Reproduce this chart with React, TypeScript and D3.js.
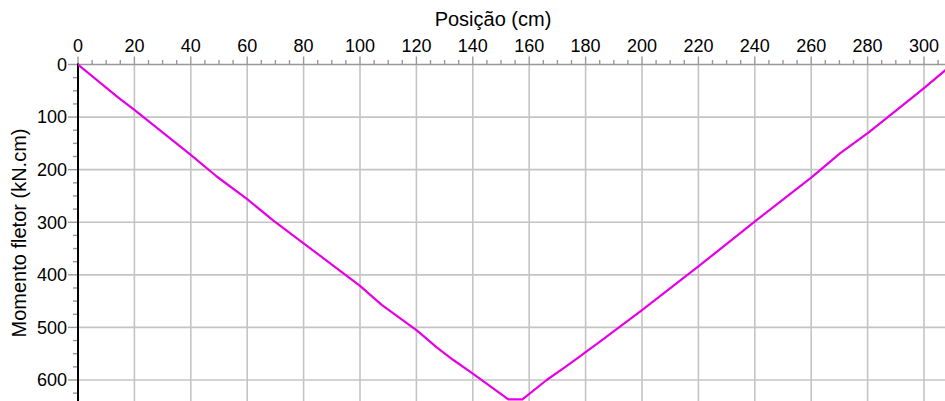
import React from "react";
import * as d3 from "d3";

const positions = [0, 14.3, 20, 40, 49.2, 60, 69.3, 80, 100, 107.7, 120, 121.3, 127.2, 133.1, 140, 152.6, 157.6, 166.2, 172.1, 178, 180, 185.1, 200, 220, 240.4, 260, 270.2, 280.4, 295.6, 300, 310];
const moments = [0, 63, 86.5, 172, 213, 256, 297, 340, 421, 457, 505, 511, 538, 562, 588, 637, 637, 600, 578, 555, 547, 527, 467, 384, 297, 215, 169, 129, 64, 45, 0];
const xTicks = d3.range(0, 301, 20);
const xMinor = d3.range(0, 308, 5);
const yTicks = [0, 100, 200, 300, 400, 500, 600];
const yMinor = d3.range(0, 641, 25);

const W = 945;
const H = 401;
const left = 78;
const top = 64.5;

export default function App() {
  const x = d3.scaleLinear().domain([0, 300]).range([left, 924]);
  const y = d3.scaleLinear().domain([0, 600]).range([top, 380]);
  const pts = positions.map((p, i) => [p, moments[i]] as [number, number]);
  const line = d3.line<[number, number]>().x((d) => x(d[0])).y((d) => y(d[1]));
  const font = "Arial, 'Liberation Sans', sans-serif";
  return (
    <svg width={W} height={H} style={{ position: "absolute", left: 0, top: 0, background: "#fff" }}>
      <defs>
        <clipPath id="plot">
          <rect x={left} y={top - 1} width={W - left} height={H - top + 1} />
        </clipPath>
      </defs>
      <g stroke="#c4c4c4" strokeWidth={1.6}>
        {xTicks.filter((t) => t > 0).map((t) => (
          <line key={"gx" + t} x1={x(t)} x2={x(t)} y1={top} y2={H} />
        ))}
        {yTicks.filter((t) => t > 0).map((t) => (
          <line key={"gy" + t} x1={left} x2={W} y1={y(t)} y2={y(t)} />
        ))}
      </g>
      {/* top axis */}
      <line x1={left} x2={W} y1={top} y2={top} stroke="#999" strokeWidth={1.6} />
      <g stroke="#999" strokeWidth={1.4}>
        {xMinor.map((t) => (
          <line key={"mx" + t} x1={x(t)} x2={x(t)} y1={top} y2={t % 20 === 0 ? top - 8 : top - 4.5} />
        ))}
      </g>
      <g fontFamily={font} fontSize={18} fill="#000" textAnchor="middle">
        {xTicks.map((t) => (
          <text key={"tx" + t} x={x(t)} y={52}>{t}</text>
        ))}
      </g>
      <text x={493} y={26} fontFamily={font} fontSize={20} textAnchor="middle">Posição (cm)</text>
      {/* left axis */}
      <g stroke="#999" strokeWidth={1.4}>
        {yMinor.map((t) => (
          <line key={"my" + t} x1={left} x2={t % 100 === 0 ? left - 10 : left - 5} y1={y(t)} y2={y(t)} />
        ))}
      </g>
      <line x1={left} x2={left} y1={top - 1} y2={H} stroke="#000" strokeWidth={2} />
      <g fontFamily={font} fontSize={18} fill="#000" textAnchor="end">
        {yTicks.map((t) => (
          <text key={"ty" + t} x={67} y={y(t)} dy="0.35em">{t}</text>
        ))}
      </g>
      <text transform={`translate(26,233) rotate(-90)`} fontFamily={font} fontSize={20} textAnchor="middle">Momento fletor (kN.cm)</text>
      <path d={line(pts) || ""} fill="none" stroke="#e600e6" strokeWidth={2.2} clipPath="url(#plot)" strokeLinejoin="round" />
    </svg>
  );
}
